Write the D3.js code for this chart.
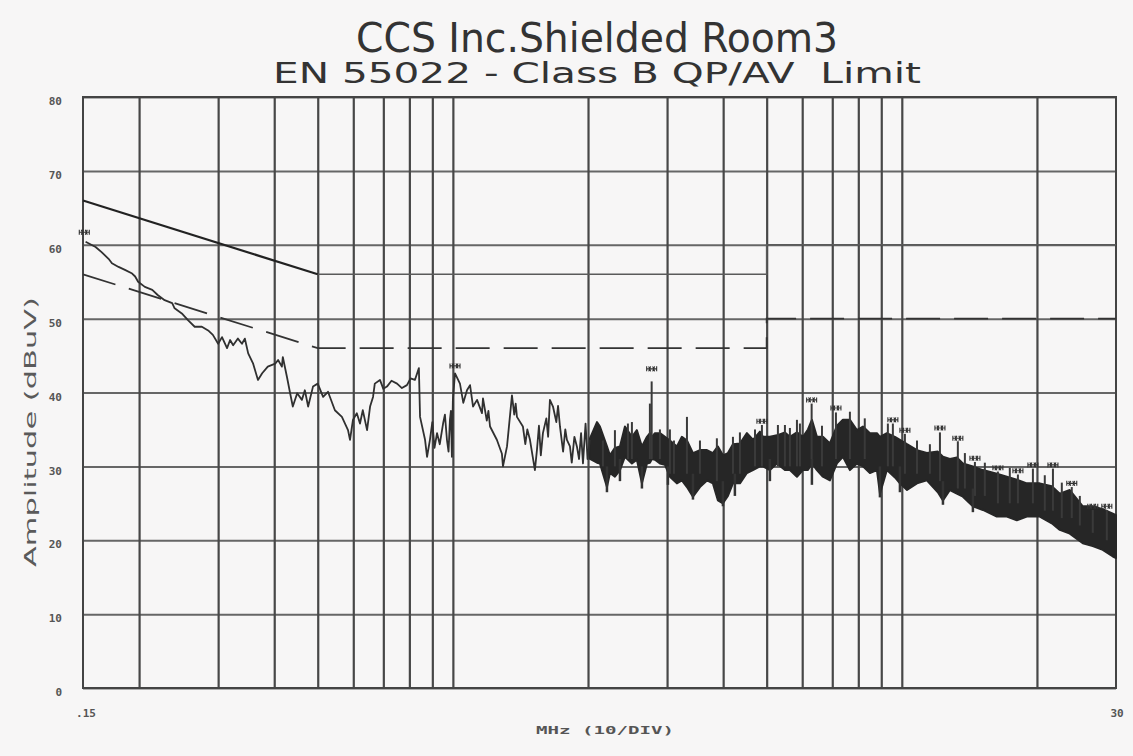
<!DOCTYPE html>
<html>
<head>
<meta charset="utf-8">
<script src="https://cdn.jsdelivr.net/npm/d3@7"></script>
<style>
	body { margin: 0; background: #f7f6f6; }
	svg { display: block; }
</style>
</head>
<body>
<svg id="chart" width="1133" height="756"></svg>
<script>
// axis values
var yTicks = [0, 10, 20, 30, 40, 50, 60, 70, 80];
var gridFreqs = [0.2, 0.3, 0.4, 0.5, 0.6, 0.7, 0.8, 0.9, 1, 2, 3, 4, 5, 6, 7, 8, 9, 10, 20];
var xEndFreqs = [0.15, 30];
var xEndLabels = [".15", "30"];

// EN 55022 class B limits (QP solid, AV dashed)
var qpSlopeFreq = [0.15, 0.5], qpSlopeLevel = [66, 56];
var qpFlatFreq = [0.5, 5, 5, 30], qpFlatLevel = [56, 56, 60, 60];
var avFreq = [0.15, 0.5, 5, 5, 30], avLevel = [56, 46, 46, 50, 50];

// measured trace, low band (MHz, dBuV)
var traceFreq = [0.152, 0.160, 0.165, 0.171, 0.174, 0.180, 0.186, 0.193, 0.196, 0.199,
	0.206, 0.214, 0.220, 0.228, 0.237, 0.240, 0.249, 0.257, 0.266, 0.276,
	0.285, 0.292, 0.300, 0.306, 0.314, 0.319, 0.324, 0.332, 0.339, 0.344,
	0.350, 0.359, 0.368, 0.376, 0.387, 0.402, 0.408, 0.416, 0.418, 0.427,
	0.434, 0.440, 0.450, 0.461, 0.468, 0.476, 0.488, 0.500, 0.514, 0.527,
	0.546, 0.566, 0.584, 0.590, 0.599, 0.611, 0.621, 0.630, 0.644, 0.654,
	0.664, 0.670, 0.688, 0.700, 0.713, 0.730, 0.751, 0.770, 0.790, 0.805,
	0.823, 0.840, 0.845, 0.867, 0.876, 0.889, 0.900, 0.910, 0.922, 0.935,
	0.951, 0.960, 0.970, 0.978, 0.985, 0.990, 0.995, 1.000, 1.011, 1.037,
	1.055, 1.075, 1.092, 1.109, 1.132, 1.161, 1.167, 1.190, 1.200, 1.210,
	1.253, 1.286, 1.293, 1.320, 1.354, 1.370, 1.380, 1.389, 1.432, 1.450,
	1.465, 1.485, 1.523, 1.539, 1.555, 1.570, 1.587, 1.615, 1.630, 1.645,
	1.671, 1.700, 1.715, 1.732, 1.760, 1.780, 1.795, 1.823, 1.840, 1.865,
	1.889, 1.910, 1.930, 1.949, 1.975, 1.995, 2.020];
var traceLevel = [60.4, 59.7, 59.0, 58.1, 57.5, 57.0, 56.6, 56.1, 55.7, 55.0,
	54.3, 53.9, 53.2, 52.5, 52.1, 51.4, 50.7, 49.8, 48.9, 48.9,
	48.4, 47.8, 46.6, 47.5, 46.0, 47.1, 46.4, 47.3, 46.6, 47.3,
	45.3, 43.9, 41.7, 42.6, 43.5, 43.9, 44.4, 43.5, 44.8, 42.1,
	39.9, 38.1, 39.9, 39.0, 40.3, 38.1, 40.8, 41.2, 39.4, 40.1,
	37.6, 36.7, 34.9, 33.6, 36.3, 37.2, 35.8, 37.6, 34.9, 38.1,
	39.4, 41.2, 41.7, 40.5, 40.8, 41.6, 41.2, 40.6, 41.0, 41.9,
	41.7, 43.3, 36.7, 33.6, 31.3, 33.6, 36.0, 32.5, 34.5, 33.0,
	35.8, 37.0, 33.6, 32.0, 36.3, 37.5, 31.3, 39.0, 42.6, 41.2,
	38.6, 40.3, 41.0, 38.1, 39.0, 37.2, 39.2, 36.2, 37.5, 35.4,
	33.6, 31.7, 30.0, 32.7, 39.6, 37.0, 38.5, 36.7, 35.4, 33.0,
	35.0, 33.6, 29.5, 32.2, 35.5, 31.5, 34.5, 36.5, 34.0, 39.0,
	38.1, 36.0, 38.2, 35.4, 32.0, 35.0, 33.6, 32.7, 30.5, 34.0,
	32.7, 31.0, 34.5, 30.4, 35.8, 31.0, 33.6];

// measured trace, dense part drawn as an envelope
var bandFreq = [2.020, 2.094, 2.126, 2.204, 2.238, 2.296, 2.356, 2.417, 2.505, 2.570,
	2.637, 2.706, 2.747, 2.776, 2.819, 2.892, 2.968, 3.044, 3.155, 3.237,
	3.322, 3.426, 3.551, 3.681, 3.795, 3.894, 3.995, 4.099, 4.206, 4.359,
	4.518, 4.660, 4.831, 4.906, 5.084, 5.270, 5.491, 5.633, 5.840, 6.022,
	6.179, 6.306, 6.470, 6.672, 6.916, 7.169, 7.393, 7.663, 7.944, 8.192,
	8.491, 8.802, 8.939, 9.264, 9.654, 9.904, 10.27, 10.81, 11.37, 12.03,
	12.35, 12.80, 13.26, 13.68, 14.40, 15.16, 16.28, 17.14, 18.04, 18.99,
	20.29, 21.58, 22.49, 23.67, 25.30, 26.63, 28.03, 29.52, 30.0];
var bandHi = [33.8, 36.0, 35.4, 32.7, 31.5, 32.5, 32.7, 35.4, 34.0, 34.9,
	32.7, 34.0, 34.5, 34.0, 34.5, 34.5, 34.0, 33.5, 32.7, 34.0,
	33.5, 31.8, 32.2, 32.2, 31.8, 32.7, 31.5, 31.8, 33.0, 33.1,
	34.5, 33.6, 34.7, 34.0, 34.0, 34.2, 34.6, 34.0, 34.6, 34.0,
	35.0, 36.3, 34.0, 34.0, 33.1, 35.5, 36.3, 36.3, 34.9, 35.4,
	34.5, 34.5, 34.0, 34.5, 34.0, 33.6, 33.0, 32.2, 31.8, 32.0,
	31.3, 31.0, 31.2, 30.4, 30.0, 29.5, 29.0, 28.6, 28.2, 27.7,
	27.7, 27.3, 26.3, 26.8, 24.6, 24.6, 24.2, 23.6, 23.4];
var bandLo = [31.0, 30.5, 30.4, 27.2, 29.1, 28.6, 29.5, 31.3, 30.4, 30.9,
	27.7, 30.4, 30.5, 31.0, 30.9, 30.4, 30.2, 28.6, 27.7, 28.1,
	27.2, 25.9, 27.2, 28.1, 27.7, 25.4, 25.0, 26.0, 27.7, 27.7,
	29.1, 29.5, 30.0, 30.0, 29.5, 30.4, 29.5, 29.5, 28.6, 29.5,
	29.5, 30.4, 29.5, 28.6, 28.1, 30.4, 31.3, 29.5, 30.4, 30.0,
	29.1, 29.5, 26.3, 29.5, 28.5, 27.7, 26.8, 27.7, 28.1, 26.5,
	25.4, 26.8, 26.3, 25.9, 24.6, 24.1, 23.2, 23.2, 22.7, 23.2,
	23.2, 22.3, 21.4, 20.9, 19.6, 19.2, 18.7, 17.8, 17.6];

// single spikes above the envelope
var spikeFreq = [2.159, 2.296, 2.454, 2.505, 2.747, 2.772, 2.892, 3.044, 3.108, 3.322,
	3.551, 3.873, 4.206, 4.359, 4.709, 4.880, 5.297, 5.491, 5.633, 5.840,
	5.930, 6.297, 6.640, 7.133, 7.663, 8.270, 9.310, 9.552, 10.16, 10.81,
	11.55, 12.16, 13.33, 13.82, 14.55, 15.31, 16.37, 17.40, 18.14, 19.59,
	20.82, 21.71, 22.72, 23.91, 24.92, 26.63, 28.62];
var spikeTop = [33.5, 34.9, 35.8, 36.0, 38.5, 41.5, 35.0, 35.0, 33.5, 36.7,
	33.5, 33.8, 34.0, 34.6, 35.0, 35.6, 35.6, 35.6, 35.2, 36.3,
	35.8, 38.5, 35.5, 37.3, 37.4, 36.5, 35.8, 35.8, 34.4, 33.5,
	33.0, 34.6, 33.4, 31.8, 30.6, 30.5, 29.3, 29.8, 28.9, 29.7,
	28.8, 29.7, 27.8, 27.2, 26.0, 24.1, 24.1];
var spikeBase = [30, 30, 31, 31, 31, 31, 31, 29, 29, 29,
	29, 28, 29, 29, 30, 30, 30, 30, 30, 30,
	30, 31, 30, 31, 31, 31, 30, 30, 29, 29,
	29, 28, 27, 27, 26, 26, 25, 25, 25, 25,
	24, 24, 23, 23, 22, 21, 20];

// single dips below the envelope
var dipFreq = [2.204, 2.356, 2.637, 3.013, 3.426, 3.995, 4.248, 5.084, 6.306, 8.939,
	9.904, 12.35, 14.40];
var dipBottom = [26.5, 28.0, 27.0, 27.5, 25.5, 24.6, 26.0, 28.0, 27.5, 25.8,
	26.5, 24.8, 23.8];
var dipTop = [30, 31, 30, 30, 29, 28, 29, 31, 31, 30,
	30, 28, 27];

// peak markers
var markFreq = [0.151, 1.011, 2.772, 4.880, 6.297, 7.133, 9.552, 10.16, 12.16, 13.33,
	14.55, 16.37, 18.14, 19.59, 21.71, 23.91, 26.63, 28.62];
var markLevel = [61.7, 43.6, 43.2, 36.1, 39.0, 37.9, 36.3, 34.9, 35.2, 33.8,
	31.1, 29.8, 29.4, 30.2, 30.2, 27.7, 24.6, 24.6];

var margin = {top: 97, right: 17, bottom: 68, left: 83},
	width = 1133 - margin.left - margin.right,
	height = 756 - margin.top - margin.bottom;

var svg = d3.select("#chart");
var g = svg.append("g")
	.attr("transform", "translate(" + margin.left + "," + margin.top + ")");

var x = d3.scaleLog().domain([0.15, 30]).range([0, width]);
var y = d3.scaleLinear().domain([0, 80]).range([height, 0]);

// titles
var titleFont = "'DejaVu Sans Condensed', 'Liberation Sans Narrow', 'DejaVu Sans', sans-serif";
svg.append("text")
	.attr("x", 597).attr("y", 52)
	.attr("text-anchor", "middle")
	.attr("textLength", 482).attr("lengthAdjust", "spacingAndGlyphs")
	.style("font-family", titleFont).style("font-size", "40px").style("fill", "#333")
	.text("CCS Inc.Shielded Room3");
svg.append("text")
	.attr("x", 597).attr("y", 83)
	.attr("text-anchor", "middle")
	.attr("textLength", 648).attr("lengthAdjust", "spacingAndGlyphs")
	.style("font-family", titleFont).style("font-size", "28px").style("fill", "#333")
	.style("white-space", "pre")
	.text("EN 55022 - Class B QP/AV  Limit");

// horizontal grid
g.append("g")
	.attr("class", "grid-y")
	.call(d3.axisLeft(y).tickValues(yTicks).tickSize(-width).tickFormat(""))
	.call(function(s) {
		s.select(".domain").remove();
		s.selectAll("line").attr("stroke", "#666").attr("stroke-width", 2);
	});

// vertical grid
g.append("g")
	.attr("class", "grid-x")
	.attr("transform", "translate(0," + height + ")")
	.call(d3.axisBottom(x).tickValues(gridFreqs).tickSize(-height).tickFormat(""))
	.call(function(s) {
		s.select(".domain").remove();
		s.selectAll("line").attr("stroke", "#474747").attr("stroke-width", 2.2);
	});

// frame
g.append("rect")
	.attr("width", width).attr("height", height)
	.attr("fill", "none").attr("stroke", "#444").attr("stroke-width", 2);

// y tick labels
var labelFont = "'DejaVu Sans Mono', monospace";
g.append("g")
	.call(d3.axisLeft(y).tickValues(yTicks).tickSize(0).tickPadding(21).tickFormat(function(d) { return d; }))
	.call(function(s) {
		s.select(".domain").remove();
		s.selectAll("text")
			.attr("dy", "0.7em")
			.style("font-family", labelFont).style("font-size", "11px")
			.style("font-weight", "bold").style("fill", "#555");
	});

// x end labels
g.selectAll(".xend")
	.data(xEndFreqs)
	.enter().append("text")
	.attr("class", "xend")
	.attr("x", function(d, i) { return x(d) + (i === 0 ? 3 : 1); })
	.attr("y", height + 29)
	.attr("text-anchor", "middle")
	.style("font-family", labelFont).style("font-size", "11px")
	.style("font-weight", "bold").style("fill", "#555")
	.text(function(d, i) { return xEndLabels[i]; });

// axis titles
svg.append("text")
	.attr("x", 605).attr("y", 734)
	.attr("text-anchor", "middle")
	.attr("textLength", 138).attr("lengthAdjust", "spacingAndGlyphs")
	.style("font-family", labelFont).style("font-size", "11px")
	.style("font-weight", "bold").style("fill", "#555")
	.text("MHz (10/DIV)");
svg.append("text")
	.attr("transform", "translate(36,432) rotate(-90)")
	.attr("text-anchor", "middle")
	.attr("textLength", 270).attr("lengthAdjust", "spacingAndGlyphs")
	.style("font-family", titleFont).style("font-size", "16px").style("fill", "#5a5a5a")
	.text("Amplitude (dBuV)");

function zip(a, b) {
	return a.map(function(d, i) { return [d, b[i]]; });
}

var line = d3.line()
	.x(function(d) { return x(d[0]); })
	.y(function(d) { return y(d[1]); });

// limit lines
g.append("path")
	.datum(zip(qpFlatFreq, qpFlatLevel))
	.attr("d", line)
	.attr("fill", "none").attr("stroke", "#5a5a5a").attr("stroke-width", 1.6);
g.append("path")
	.datum(zip(qpSlopeFreq, qpSlopeLevel))
	.attr("d", line)
	.attr("fill", "none").attr("stroke", "#222").attr("stroke-width", 2.2);
g.append("path")
	.datum(zip(avFreq, avLevel))
	.attr("d", line)
	.attr("fill", "none").attr("stroke", "#333").attr("stroke-width", 1.8)
	.attr("stroke-dasharray", "34,14");

// dense envelope
var band = bandFreq.map(function(d, i) { return {f: d, hi: bandHi[i], lo: bandLo[i]}; });
g.append("path")
	.datum(band)
	.attr("d", d3.area()
		.x(function(d) { return x(d.f); })
		.y0(function(d) { return y(d.lo); })
		.y1(function(d) { return y(d.hi); }))
	.attr("fill", "#262626").attr("stroke", "#262626").attr("stroke-width", 2)
	.attr("stroke-linejoin", "round");

// spikes and dips
g.selectAll(".spike")
	.data(spikeFreq)
	.enter().append("line")
	.attr("class", "spike")
	.attr("x1", function(d) { return x(d); })
	.attr("x2", function(d) { return x(d); })
	.attr("y1", function(d, i) { return y(spikeBase[i]); })
	.attr("y2", function(d, i) { return y(spikeTop[i]); })
	.attr("stroke", "#3a3a3a").attr("stroke-width", 2);
g.selectAll(".dip")
	.data(dipFreq)
	.enter().append("line")
	.attr("class", "dip")
	.attr("x1", function(d) { return x(d); })
	.attr("x2", function(d) { return x(d); })
	.attr("y1", function(d, i) { return y(dipTop[i]); })
	.attr("y2", function(d, i) { return y(dipBottom[i]); })
	.attr("stroke", "#333").attr("stroke-width", 2.5);

// low band trace
g.append("path")
	.datum(zip(traceFreq, traceLevel))
	.attr("d", line)
	.attr("fill", "none").attr("stroke", "#303030").attr("stroke-width", 1.8)
	.attr("stroke-linejoin", "round");

// peak markers
g.selectAll(".mark")
	.data(markFreq)
	.enter().append("path")
	.attr("class", "mark")
	.attr("transform", function(d, i) { return "translate(" + x(d) + "," + y(markLevel[i]) + ")"; })
	.attr("d", "M-5,0H5M-5,-2.5V2.5M5,-2.5V2.5M-3,-2.5L-1,2.5M-3,2.5L-1,-2.5M1,-2.5L3,2.5M1,2.5L3,-2.5")
	.attr("fill", "none").attr("stroke", "#333").attr("stroke-width", 1.1);
</script>
</body>
</html>
